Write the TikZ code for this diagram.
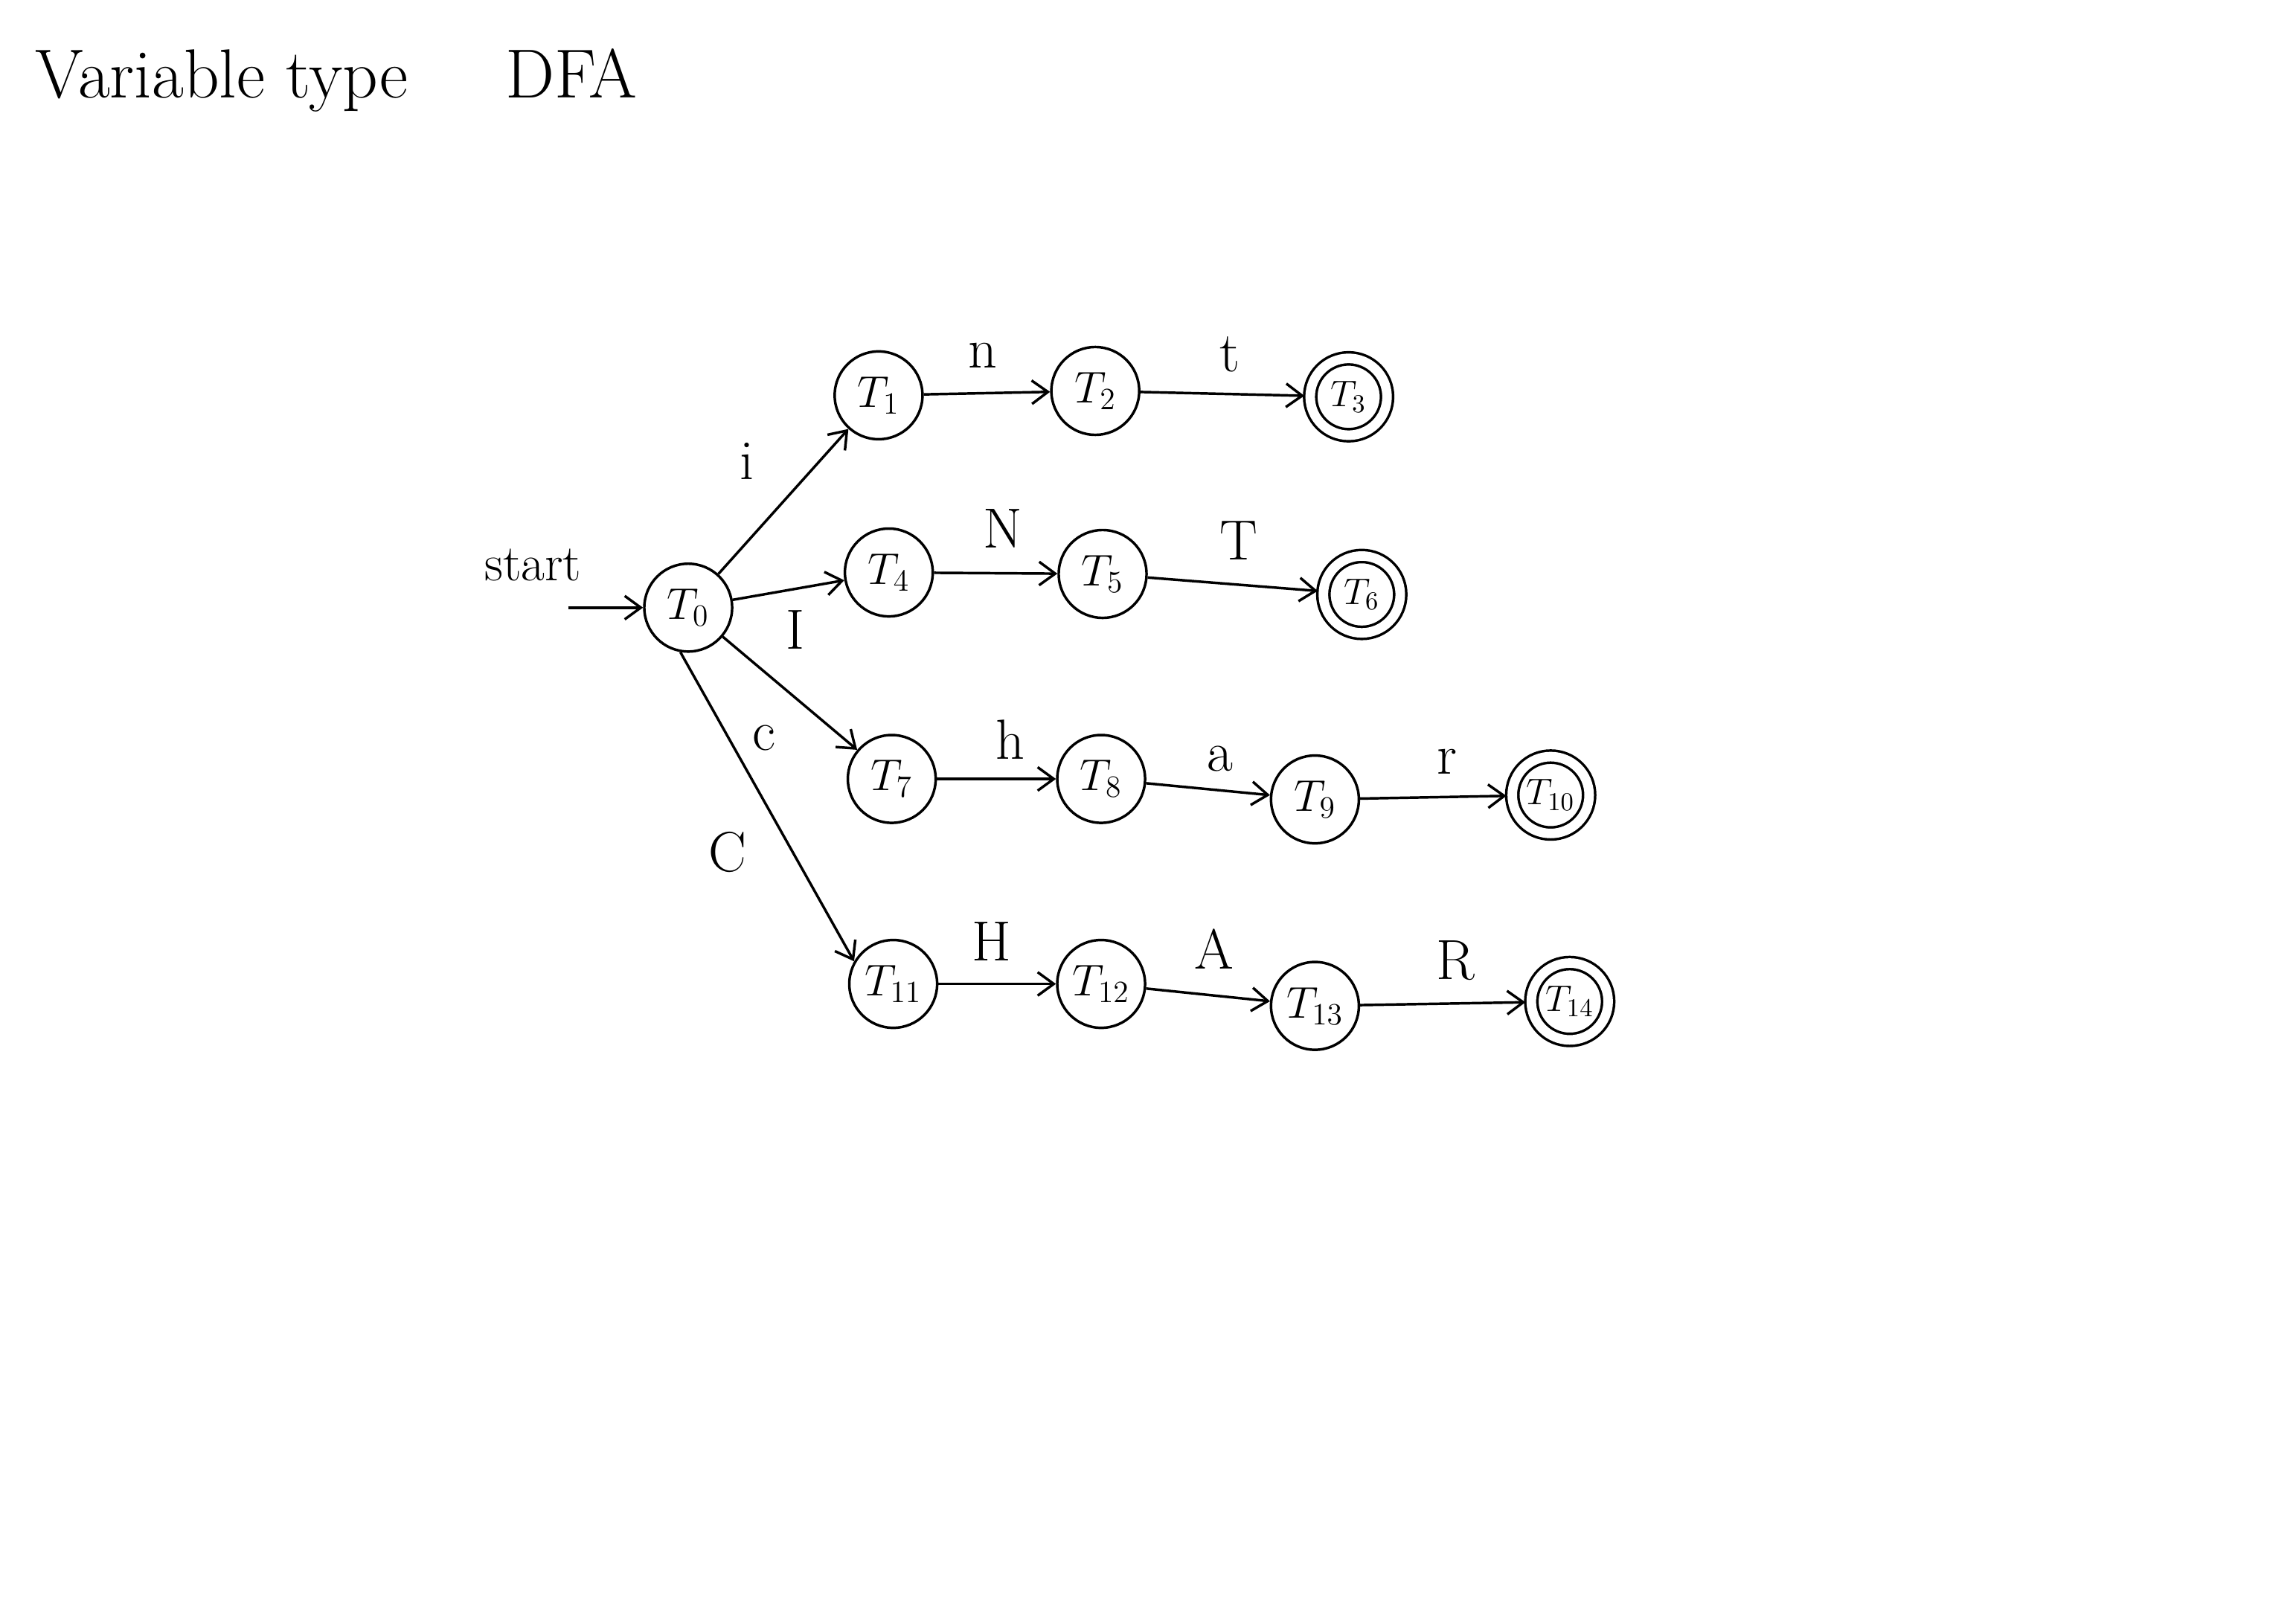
\documentclass[tikz,border=0pt]{standalone}
\usepackage{tikz}
\usetikzlibrary{arrows.meta}

\tikzset{
  state/.style={circle, draw, line width=1pt, minimum size=1.2cm, inner sep=0pt,
    font=\fontsize{17}{17}\selectfont},
  accept/.style={state, double, double distance=0.13cm, minimum size=1.05cm, outer sep=0.08cm,
    font=\fontsize{14}{14}\selectfont},
  edge/.style={line width=1pt, -{Straight Barb[length=2.2mm, width=3.2mm]}},
  lbl/.style={font=\fontsize{22}{22}\selectfont}
}

\begin{document}
\begin{tikzpicture}[x=0.02cm, y=-0.02cm]
\useasboundingbox (0,0) rectangle (1568,1109);

\node[anchor=west, font=\fontsize{27}{27}\selectfont](title) at (18,55) {Variable type \hspace{0.8em} DFA};

% states
\node[state](t0) at (470,415) {$T_{0}$};
\node[state](t1) at (600,270) {$T_{1}$};
\node[state](t2) at (748,267) {$T_{2}$};
\node[accept](t3) at (921,271) {$T_{3}$};
\node[state](t4) at (607,391) {$T_{4}$};
\node[state](t5) at (753,392) {$T_{5}$};
\node[accept](t6) at (930,406) {$T_{6}$};
\node[state](t7) at (609,532) {$T_{7}$};
\node[state](t8) at (752,532) {$T_{8}$};
\node[state](t9) at (898,546) {$T_{9}$};
\node[accept](t10) at (1059,543) {$T_{10}$};
\node[state](t11) at (610,672) {$T_{11}$};
\node[state](t12) at (752,672) {$T_{12}$};
\node[state](t13) at (898,687) {$T_{13}$};
\node[accept](t14) at (1072,684) {$T_{14}$};

% start
\node[font=\fontsize{20}{20}\selectfont](start) at (364,386) {start};
\coordinate (s0) at (388,415);
\draw[edge] (s0) -- (t0);

% transitions
\draw[edge] (t0) -- (t1);
\draw[edge] (t0) -- (t4);
\draw[edge] (t0) -- (t7);
\draw[edge] (t0.-100) -- (t11.150);
\foreach \a/\b in {1/2,2/3,4/5,5/6,7/8,8/9,9/10,11/12,12/13,13/14}
	\draw[edge] (t\a) -- (t\b);

% labels
\node[lbl](li) at (510,315) {i};
\node[lbl](lI) at (543,430) {I};
\node[lbl](lc) at (522,504) {c};
\node[lbl](lC) at (497,582) {C};
\node[lbl](ln) at (671,243) {n};
\node[lbl](lt) at (840,242) {t};
\node[lbl](lN) at (685,361) {N};
\node[lbl](lT) at (846,369) {T};
\node[lbl](lh) at (690,505) {h};
\node[lbl](la) at (833,518) {a};
\node[lbl](lr) at (988,520) {r};
\node[lbl](lH) at (677,643) {H};
\node[lbl](lA) at (829,648) {A};
\node[lbl](lR) at (994,656) {R};

\end{tikzpicture}
\end{document}
